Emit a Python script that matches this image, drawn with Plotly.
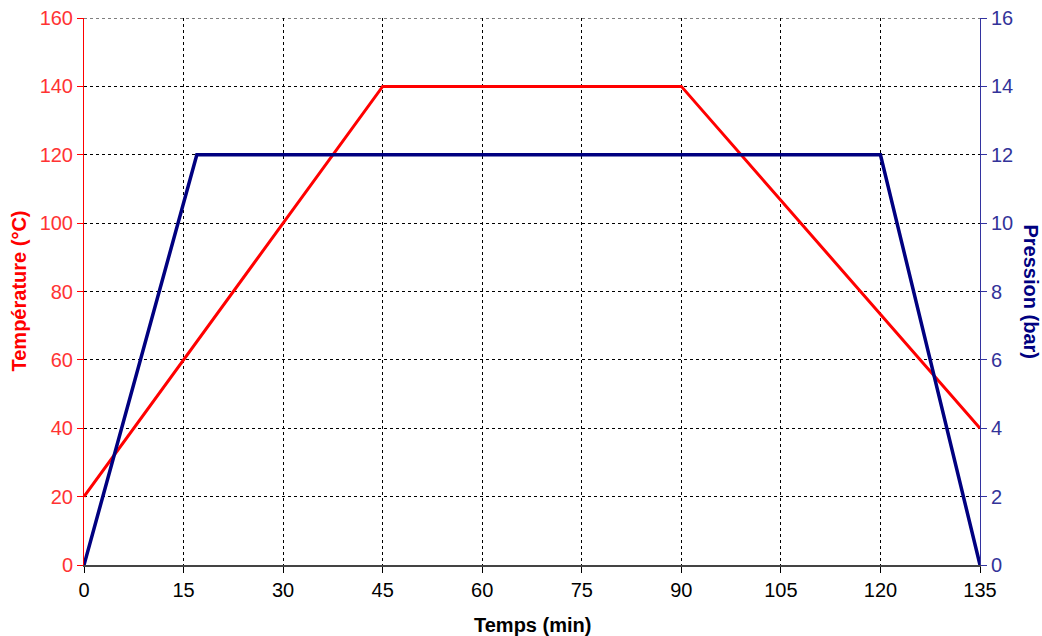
import plotly.graph_objects as go

temps_t = [0, 45, 90, 135]
temperature = [20, 140, 140, 40]
temps_p = [0, 17, 120, 135]
pression = [0, 12, 12, 0]

x_ticks = [0, 15, 30, 45, 60, 75, 90, 105, 120, 135]
temp_max = 160
pres_max = 16

fig = go.Figure()
fig.add_trace(go.Scatter(x=temps_t, y=temperature, mode="lines",
                         line=dict(color="#ff0000", width=3), yaxis="y", showlegend=False))
fig.add_trace(go.Scatter(x=temps_p, y=pression, mode="lines",
                         line=dict(color="#000080", width=3.5), yaxis="y2", showlegend=False))

font = "Liberation Sans, Arial, sans-serif"
fig.update_layout(
    width=1042, height=636,
    margin=dict(l=84, r=62, t=18, b=71),
    paper_bgcolor="white", plot_bgcolor="white",
    font=dict(family=font, size=20, color="black"),
    xaxis=dict(range=[0, 135], tickvals=x_ticks, showgrid=True, gridcolor="black",
               griddash="dot", gridwidth=1, showline=True, linecolor="#444444", linewidth=2,
               ticks="outside", ticklen=6, tickcolor="black", automargin=False,
               zeroline=False),
    yaxis=dict(range=[0, temp_max], dtick=20, showgrid=True, gridcolor="black", griddash="dot",
               gridwidth=1, showline=True, linecolor="#ff0000", linewidth=1,
               ticks="outside", ticklen=6, tickcolor="#ff0000", automargin=False,
               tickfont=dict(color="#ff3333"), zeroline=False),
    yaxis2=dict(range=[0, pres_max], dtick=2, overlaying="y", side="right", showgrid=False,
                showline=True, linecolor="#3333a0", linewidth=1,
                ticks="outside", ticklen=6, tickcolor="#3333a0", automargin=False,
                tickfont=dict(color="#333399"), zeroline=False),
    shapes=[
        dict(type="line", xref="paper", yref="y", x0=0, x1=1, y0=temp_max, y1=temp_max,
             line=dict(color="black", width=1, dash="dot"), layer="below"),
    ],
    annotations=[
        dict(text="<b>Temps (min)</b>", xref="paper", yref="paper", x=0.5, y=0,
             xanchor="center", yanchor="middle",
             yshift=-60, showarrow=False, font=dict(size=20, color="black")),
        dict(text="<b>Température (°C)</b>", xref="paper", yref="paper", x=0, y=0.5,
             xanchor="center", yanchor="middle",
             xshift=-66, textangle=-90, showarrow=False, font=dict(size=20, color="#ff0000")),
        dict(text="<b>Pression (bar)</b>", xref="paper", yref="paper", x=1, y=0.5,
             xanchor="center", yanchor="middle",
             xshift=51, textangle=90, showarrow=False, font=dict(size=20, color="#000080")),
    ],
)

fig.write_html("out.html", config={"displayModeBar": False},
               post_script="document.body.style.margin='0';document.body.style.overflow='hidden';")
